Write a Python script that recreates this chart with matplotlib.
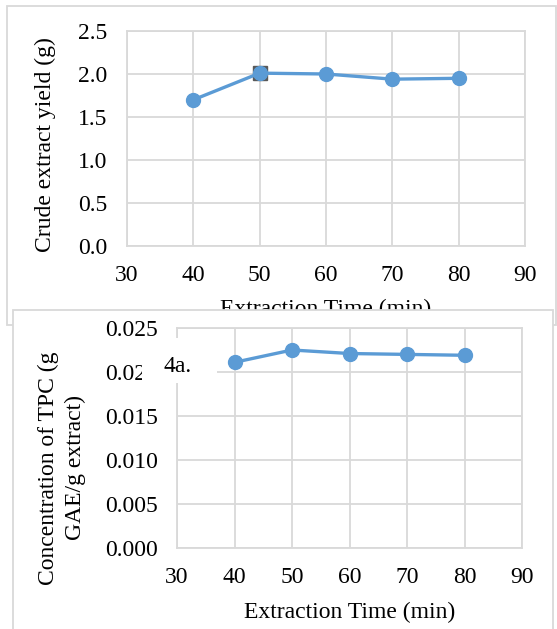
import matplotlib.pyplot as plt
from matplotlib.patches import Rectangle

# data
time_min = [40, 50, 60, 70, 80]
yield_g = [1.70, 2.01, 2.00, 1.94, 1.95]
tpc = [0.0211, 0.0225, 0.0221, 0.0220, 0.0219]

x_ticks = [30, 40, 50, 60, 70, 80, 90]
yield_ticks = [0.0, 0.5, 1.0, 1.5, 2.0, 2.5]
tpc_ticks = [0.0, 0.005, 0.010, 0.015, 0.020, 0.025]

BLUE = '#5b9bd5'
GRID = '#d9d9d9'
W, H = 557, 629
FS = 17

plt.rcParams['font.family'] = ['Liberation Serif', 'DejaVu Serif']
plt.rcParams['font.size'] = FS

fig = plt.figure(figsize=(W / 100, H / 100), dpi=100)


def px_rect(x0, y0, x1, y1):
    # pixel box (top-left origin) -> figure fraction rect
    return [x0 / W, (H - y1) / H, (x1 - x0) / W, (y1 - y0) / H]


def style_axes(ax, ticks, fmt):
    ax.set_xlim(30, 90)
    ax.set_xticks(x_ticks)
    ax.set_ylim(ticks[0], ticks[-1])
    ax.set_yticks(ticks)
    ax.set_yticklabels([fmt.format(t) for t in ticks])
    ax.grid(True, color=GRID, linewidth=1.3)
    ax.set_axisbelow(True)
    for s in ax.spines.values():
        s.set_color(GRID)
        s.set_linewidth(1.3)
    ax.tick_params(length=0, pad=14, labelsize=FS)


# top panel frame
fig.patches.append(Rectangle((7 / W, (H - 325) / H), (556 - 7) / W, (325 - 6) / H,
                             transform=fig.transFigure, facecolor='white',
                             edgecolor=GRID, linewidth=1.3, zorder=0))

ax1 = fig.add_axes(px_rect(127, 31, 525, 246))
ax1.set_zorder(1)
ax1.plot(time_min[1], yield_g[1], marker='s', markersize=9.5, markerfacecolor='#595959',
         markeredgecolor='#595959', markeredgewidth=1.0, zorder=2)
ax1.plot(time_min, yield_g, color=BLUE, linewidth=2.4, marker='o',
         markersize=10, zorder=3, clip_on=False)
style_axes(ax1, yield_ticks, '{:.1f}')
fig.text(45 / W, 1 - 145 / H, 'Crude extract yield (g)', rotation=90,
         ha='center', va='center', fontsize=FS, zorder=1)
ax1.set_xlabel('Extraction Time (min)', fontsize=FS, labelpad=9)

# bottom panel frame (covers the lower part of the top one)
fig.patches.append(Rectangle((13 / W, -0.05), (553 - 13) / W, (H - 310) / H + 0.05,
                             transform=fig.transFigure, facecolor='white',
                             edgecolor=GRID, linewidth=1.3, zorder=2))

ax2 = fig.add_axes(px_rect(177, 328, 522, 548))
ax2.set_zorder(3)
ax2.plot(time_min, tpc, color=BLUE, linewidth=2.4, marker='o',
         markersize=10, zorder=3, clip_on=False)
style_axes(ax2, tpc_ticks, '{:.3f}')
ax2.set_xlabel('Extraction Time (min)', fontsize=FS, labelpad=10)
fig.text(62 / W, 1 - 468 / H, 'Concentration of TPC (g\nGAE/g extract)', rotation=90,
         ha='center', va='center', fontsize=FS, linespacing=1.4, zorder=3)

# "4a." label on a white box
fig.patches.append(Rectangle((142 / W, (H - 383) / H), (217 - 142) / W, (383 - 338) / H,
                             transform=fig.transFigure, facecolor='white',
                             edgecolor='none', zorder=4))
fig.text(163 / W, 1 - 366 / H, '4a.', ha='left', va='center', fontsize=FS, zorder=5)

fig.savefig('out.png', dpi=100)
